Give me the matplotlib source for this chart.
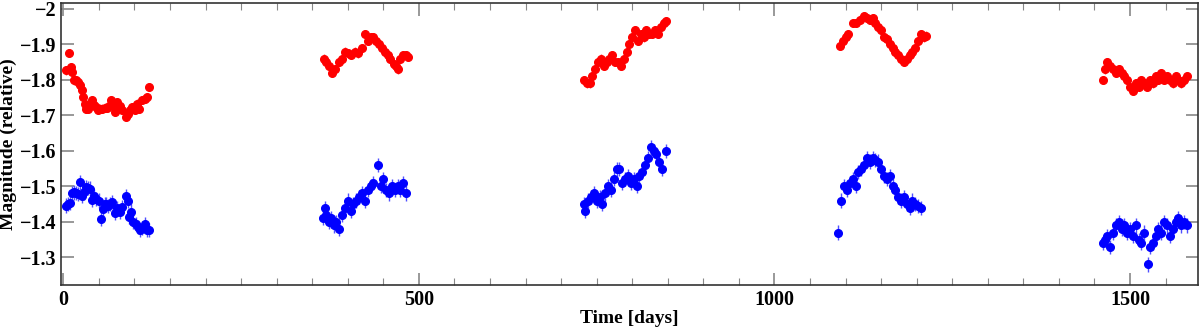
import numpy as np
import matplotlib.pyplot as plt
from matplotlib.ticker import MultipleLocator, FuncFormatter

plt.rcParams['font.family'] = ['Liberation Serif', 'DejaVu Serif']
plt.rcParams['font.weight'] = 'bold'

# image A (red)
t_red = [4.2, 8, 10.3, 12.6, 15, 18.2, 21, 23.9, 25.7, 27.6, 30.4, 32.3, 35, 36.9,
         39.7, 42.5, 45.3, 49.1, 51.9, 54.7, 58.5, 61.7, 64, 66.9, 69.7, 72.5, 75.8,
         79, 82.8, 88.4, 91.2, 94, 96.8, 100.6, 103.8, 107, 110.8, 114.6, 118.3, 120.3,
         367, 370, 373, 378, 382, 388, 392, 396, 400, 405, 410, 415, 420, 424, 428,
         432, 436, 440, 444, 448, 452, 456, 460, 465, 468, 471, 474, 478, 482, 485,
         732, 736, 740, 744, 748, 752, 756, 760, 764, 768, 772, 776, 780, 784, 788,
         792, 796, 800, 804, 808, 812, 816, 820, 824, 828, 832, 836, 840, 845, 848,
         1092, 1096, 1100, 1104, 1110, 1114, 1120, 1126, 1130, 1134, 1138, 1142, 1146,
         1150, 1154, 1158, 1162, 1166, 1170, 1174, 1178, 1182, 1186, 1190, 1194, 1198,
         1202, 1206, 1210, 1213,
         1462, 1465, 1468, 1472, 1476, 1480, 1484, 1488, 1492, 1496, 1500, 1504, 1508,
         1512, 1516, 1520, 1524, 1528, 1532, 1536, 1540, 1544, 1548, 1552, 1556, 1560,
         1564, 1568, 1572, 1576, 1580]
m_red = [-1.827, -1.876, -1.837, -1.823, -1.799, -1.800, -1.794, -1.785, -1.771, -1.752,
         -1.733, -1.719, -1.719, -1.729, -1.743, -1.729, -1.724, -1.716, -1.719, -1.719,
         -1.722, -1.722, -1.726, -1.743, -1.726, -1.710, -1.738, -1.726, -1.716, -1.695,
         -1.705, -1.714, -1.724, -1.716, -1.733, -1.719, -1.743, -1.747, -1.752, -1.780,
         -1.86, -1.85, -1.84, -1.82, -1.83, -1.85, -1.86, -1.88, -1.875, -1.87,
         -1.88, -1.875, -1.89, -1.93, -1.91, -1.92, -1.92, -1.91, -1.90, -1.89,
         -1.88, -1.87, -1.86, -1.845, -1.84, -1.83, -1.86, -1.87, -1.87, -1.865,
         -1.80, -1.79, -1.79, -1.81, -1.83, -1.85, -1.86, -1.84, -1.85, -1.86,
         -1.87, -1.85, -1.85, -1.84, -1.86, -1.88, -1.90, -1.92, -1.94, -1.91,
         -1.93, -1.92, -1.94, -1.93, -1.93, -1.94, -1.93, -1.95, -1.96, -1.965,
         -1.895, -1.91, -1.92, -1.93, -1.96, -1.96, -1.97, -1.98, -1.975, -1.97,
         -1.975, -1.96, -1.95, -1.94, -1.92, -1.915, -1.90, -1.89, -1.88, -1.87,
         -1.86, -1.85, -1.86, -1.87, -1.88, -1.89, -1.91, -1.93, -1.92, -1.925,
         -1.80, -1.83, -1.85, -1.84, -1.83, -1.82, -1.83, -1.82, -1.81, -1.80,
         -1.78, -1.77, -1.79, -1.78, -1.80, -1.79, -1.78, -1.80, -1.79, -1.81,
         -1.80, -1.82, -1.80, -1.81, -1.80, -1.79, -1.81, -1.80, -1.79, -1.80, -1.81]

# image B (blue)
t_blue = [4.2, 7, 9.8, 11.6, 14.4, 17.2, 21, 23.8, 26.6, 29.4, 32.2, 35, 37.8, 40.6,
          43.4, 46.2, 50, 52.8, 55.6, 58.4, 60.3, 63.1, 65.9, 68.7, 72.4, 75.2, 79,
          82.7, 88.4, 91.2, 93, 94.9, 97.7, 101.5, 104.3, 108, 110.8, 114.6, 117.4, 120.3,
          365, 368, 370, 373, 377, 380, 384, 388, 392, 396, 400, 404, 408, 412, 416,
          420, 424, 428, 432, 436, 442, 446, 450, 454, 458, 462, 466, 470, 474, 478, 482,
          732, 734, 738, 742, 746, 750, 754, 758, 762, 766, 770, 774, 778, 782, 786,
          790, 794, 798, 802, 806, 810, 814, 818, 822, 826, 830, 834, 838, 842, 848,
          1090, 1094, 1098, 1102, 1106, 1110, 1114, 1118, 1122, 1126, 1130, 1134, 1138,
          1142, 1146, 1150, 1154, 1158, 1162, 1166, 1170, 1174, 1178, 1182, 1186, 1190,
          1194, 1198, 1202, 1206,
          1462, 1465, 1468, 1472, 1476, 1480, 1484, 1488, 1492, 1496, 1500, 1504, 1508,
          1512, 1516, 1520, 1525, 1528, 1532, 1536, 1540, 1544, 1548, 1552, 1556, 1560,
          1564, 1568, 1572, 1576, 1580]
m_blue = [-1.446, -1.451, -1.453, -1.481, -1.483, -1.481, -1.478, -1.511, -1.472, -1.483,
          -1.497, -1.495, -1.494, -1.462, -1.474, -1.464, -1.460, -1.408, -1.436, -1.451,
          -1.451, -1.445, -1.451, -1.455, -1.425, -1.439, -1.429, -1.442, -1.472, -1.458,
          -1.414, -1.429, -1.399, -1.395, -1.385, -1.378, -1.382, -1.395, -1.378, -1.378,
          -1.41, -1.44, -1.42, -1.40, -1.41, -1.39, -1.40, -1.38, -1.42, -1.44,
          -1.46, -1.43, -1.45, -1.46, -1.47, -1.48, -1.46, -1.49, -1.50, -1.51,
          -1.56, -1.50, -1.52, -1.49, -1.48, -1.50, -1.49, -1.50, -1.49, -1.51, -1.48,
          -1.45, -1.43, -1.46, -1.47, -1.48, -1.46, -1.47, -1.45, -1.48, -1.50,
          -1.49, -1.52, -1.55, -1.55, -1.51, -1.52, -1.53, -1.51, -1.52, -1.50,
          -1.53, -1.54, -1.56, -1.58, -1.61, -1.60, -1.59, -1.57, -1.55, -1.60,
          -1.37, -1.46, -1.50, -1.49, -1.51, -1.52, -1.50, -1.54, -1.55, -1.56,
          -1.58, -1.57, -1.58, -1.575, -1.57, -1.55, -1.53, -1.52, -1.53, -1.50,
          -1.49, -1.47, -1.46, -1.47, -1.45, -1.44, -1.46, -1.45, -1.445, -1.44,
          -1.34, -1.35, -1.36, -1.33, -1.37, -1.39, -1.40, -1.38, -1.39, -1.37,
          -1.38, -1.36, -1.39, -1.35, -1.34, -1.37, -1.28, -1.33, -1.34, -1.36,
          -1.38, -1.37, -1.40, -1.39, -1.36, -1.38, -1.40, -1.41, -1.39, -1.40, -1.39]

err_red = 0.012
err_blue = 0.02

fig = plt.figure(figsize=(12, 3.28), dpi=100)
ax = fig.add_axes([0.051, 0.131, 0.947, 0.86])

ax.errorbar(t_red, m_red, yerr=err_red, fmt='o', color='red', ms=5.5,
            ecolor='#ff5050', elinewidth=1, capsize=0)
ax.errorbar(t_blue, m_blue, yerr=err_blue, fmt='o', color='blue', ms=5.5,
            ecolor='#5050ff', elinewidth=1, capsize=0)

ax.set_xlim(-3, 1595)
ax.set_ylim(-1.222, -2.017)

ax.xaxis.set_major_locator(MultipleLocator(500))
ax.xaxis.set_minor_locator(MultipleLocator(50))
ax.yaxis.set_major_locator(MultipleLocator(0.1))
ax.yaxis.set_major_formatter(FuncFormatter(lambda v, p: f'{v:g}'.replace('-', '\u2212')))

ax.tick_params(which='both', direction='in', top=True, right=True,
               labelsize=14.5, color='#888888')
ax.tick_params(which='major', length=9, width=1.2)
ax.tick_params(which='minor', length=5, width=0.8)
for s in ax.spines.values():
    s.set_color('#333333')
    s.set_linewidth(1.2)

ax.set_xlabel('Time [days]', fontsize=14, fontweight='bold', labelpad=0)
ax.set_ylabel('Magnitude (relative)', fontsize=14, fontweight='bold', labelpad=2)

fig.savefig('out.png', dpi=100)
